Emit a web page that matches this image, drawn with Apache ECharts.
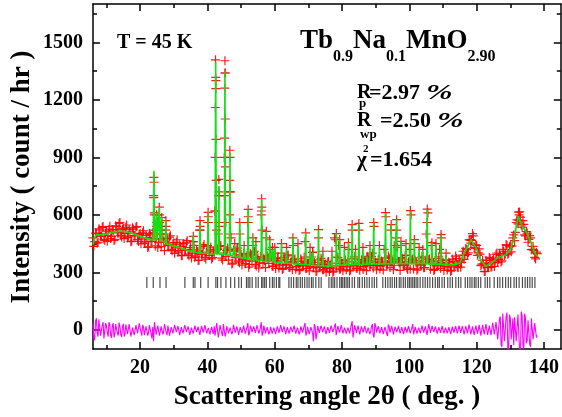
<!DOCTYPE html>
<html><head><meta charset="utf-8">
<script src="https://cdn.jsdelivr.net/npm/echarts@6/dist/echarts.min.js"></script>
<style>html,body{margin:0;padding:0;background:#fff}#c{width:562px;height:417px}</style>
</head><body><div id="c"></div>
<script>
// ---- data ----
const xTicks = [20, 40, 60, 80, 100, 120, 140];
const xMinor = [10, 30, 50, 70, 90, 110, 130];
const yTicks = [0, 300, 600, 900, 1200, 1500];
const yMinor = [150, 450, 750, 1050, 1350, 1650];

// observed intensity on the scan grid (6.0 .. 138.0, step 0.5)
const scanStart = 6.0, scanStep = 0.5;
const obsScan = [
 480,460,502,457,521,490,539,467,515,492,
 540,487,515,472,539,510,560,485,529,503,
 547,489,511,463,525,492,539,461,503,475,
 517,459,481,433,495,463,700,438,560,456,
 500,500,463,470,477,443,491,413,455,428,
 470,413,435,388,450,417,465,387,429,400,
 441,385,409,363,427,396,445,369,440,388,
 432,377,401,1300,421,700,440,364,900,383,
 427,420,480,348,411,379,427,350,393,366,
 399,360,560,341,392,440,410,333,376,350,
 600,347,362,480,374,420,383,332,400,343,
 375,337,400,320,365,341,391,325,355,440,
 369,331,346,314,359,337,460,320,349,331,
 380,325,340,307,480,330,363,313,342,324,
 357,320,337,306,470,380,440,317,348,331,
 365,328,420,312,520,336,370,321,520,333,
 366,330,346,380,361,339,400,540,353,336,
 369,332,349,420,590,341,375,520,355,337,
 480,430,350,440,370,340,390,315,420,600,
 370,450,350,317,363,341,375,325,500,610,
 369,440,348,315,360,338,420,480,351,332,
 365,327,342,310,357,336,372,325,360,352,
 410,388,419,402,468,466,490,425,440,402,
 395,343,344,305,349,331,372,330,368,359,
 401,368,389,360,410,396,440,400,440,437,
 495,508,574,572,588,536,550,490,505,472,
 480,420,414,370,398
];
// observed intensity on the interleaved grid (6.25 .. 137.75, step 0.5)
const scan2Start = 6.25;
const obsScan2 = [
 435,505,452,527,488,535,472,504,462,525,
 476,523,466,543,506,555,493,523,476,535,
 481,523,460,532,491,536,471,498,449,506,
 451,493,430,502,461,507,600,475,429,560,
 434,476,413,500,439,484,419,447,399,457,
 405,444,387,451,414,454,395,419,375,460,
 378,417,362,520,393,435,378,405,560,417,
 370,411,620,420,500,435,374,401,1340,414,
 364,720,343,416,376,422,358,386,338,396,
 345,386,327,397,358,404,342,369,322,382,
 520,373,325,386,347,394,331,360,320,372,
 322,363,315,377,338,386,325,353,314,366,
 316,357,309,371,333,380,320,347,308,360,
 404,352,303,365,326,373,313,340,301,354,
 305,348,301,480,328,377,318,347,308,362,
 313,355,307,371,333,381,321,349,311,364,
 315,357,309,373,335,383,323,352,313,366,
 317,359,312,375,337,385,325,353,314,367,
 520,358,310,377,335,387,323,355,316,365,
 318,360,311,376,338,384,324,354,560,366,
 316,358,310,372,333,381,321,349,310,362,
 312,353,306,369,333,385,328,360,327,390,
 368,425,393,470,452,502,430,443,389,422,
 335,363,304,362,325,378,326,362,331,394,
 351,397,354,420,388,445,395,433,407,480,
 465,560,553,615,547,570,495,513,457,492,
 418,435,378,405
];
// observed points on peak flanks [angle, count]
const obsPeaks = [
 [24.0,520],[24.05,690],[24.1,795],[24.15,770],[24.2,610],
 [24.85,540],[24.9,600],[24.95,560],
 [25.65,560],[25.7,640],[25.75,600],
 [26.35,520],[26.4,585],[26.45,540],
 [27.6,520],[27.65,570],[27.7,540],
 [35.8,488],[35.85,460],
 [37.75,520],[37.8,570],[37.85,540],
 [40.15,560],[40.2,613],[40.25,590],
 [42.25,620],[42.3,900],[42.35,1160],[42.4,1409],[42.45,1317],[42.5,1259],[42.55,994],[42.6,780],[42.7,520],
 [43.3,560],[43.35,700],[43.4,785],[43.45,720],[43.5,540],
 [45.05,700],[45.1,1000],[45.15,1261],[45.2,1404],[45.25,1340],[45.3,1100],[45.35,850],[45.45,560],
 [46.55,600],[46.6,780],[46.65,937],[46.7,900],[46.75,720],[46.85,500],
 [48.1,450],[49.6,560],[49.65,500],[50.9,440],
 [52.05,560],[52.1,628],[52.15,590],
 [53.5,480],[54.4,460],
 [56.05,620],[56.1,684],[56.15,640],
 [57.5,514],[58.5,470],[59.3,430],[60.0,430],[62.0,450],[63.5,430],
 [65.4,480],[66.9,450],[69.2,506],[70.5,430],[71.3,404],[73.0,523],[74.3,410],[77.0,410],[78.3,502],[79.3,471],[80.7,430],[81.9,455],
 [83.0,549],[84.0,420],[85.0,555],[86.2,430],[87.4,384],[88.3,440],[89.4,560],[91.1,440],[92.9,612],[94.6,549],[95.5,440],[96.2,575],
 [97.5,462],[99.0,450],[100.3,622],[101.5,471],[102.9,430],[104.0,420],[105.3,630],[106.7,455],[107.9,450],[109.4,497],[110.9,400],
 [118.3,471],[132.4,614],[132.6,600]
];
// calculated profile [angle, count]
const calcMain = [
 [6.0,445],[6.4,480],[7.0,497],[8.0,496],[9.0,494],[10,500],[12,510],[14,515],[16,512],[18,500],[20,488],[22,476],[23.9,468],
 [24.1,830],[24.3,468],[24.75,467],[24.9,610],[25.05,467],[25.55,466],[25.7,640],[25.85,465],[26.25,464],[26.4,590],[26.55,462],[27.5,456],[27.65,572],[27.8,448],
 [30,438],[32,428],[34,415],[35.65,408],[35.8,490],[35.95,406],[37.65,402],[37.8,560],[37.95,400],[40.05,398],[40.2,620],[40.35,397],
 [42.25,396],[42.45,1397],[42.65,396],[43.25,396],[43.4,750],[43.55,395],[45.05,393],[45.2,1352],[45.35,392],[46.55,390],[46.7,925],[46.85,389],
 [47.5,384],[49.45,378],[49.6,560],[49.75,377],[50,375],[51.95,370],[52.1,628],[52.25,369],[53.35,366],[53.5,480],[53.65,365],[55.95,360],[56.1,684],[56.25,359],[57.35,357],[57.5,514],[57.65,356],[58.35,355],[58.5,470],[58.65,354],[59.85,352],[60.0,430],[60.15,351],[61.85,349],[62.0,450],[62.15,348],
 [65.25,345],[65.4,480],[65.55,344],[69.05,341],[69.2,506],[69.35,340],[71.15,338],[71.3,404],[71.45,337],[72.85,335],[73.0,520],[73.15,334],[75.85,332],[76.0,357],[76.15,332],[78.15,334],[78.3,502],[78.45,335],[79.15,336],[79.3,471],[79.45,337],[81.75,340],[81.9,455],[82.05,340],[82.85,340],[83.0,549],[83.15,340],[84.85,341],[85.0,549],[85.15,341],[87.25,342],[87.4,384],[87.55,342],[89.25,343],[89.4,560],[89.55,343],[92.75,344],[92.9,610],[93.05,344],[94.45,345],[94.6,549],[94.75,345],[96.05,345],[96.2,575],[96.35,345],[97.35,345],[97.5,462],[97.65,345],[100.15,345],[100.3,620],[100.45,345],[101.35,345],[101.5,471],[101.65,345],[105.15,344],[105.3,628],[105.45,344],[106.55,343],[106.7,455],[106.85,343],[109.25,341],[109.4,497],[109.55,341],
 [112,338],[113.65,340],[113.8,357],[113.95,342],[115,350],[116.3,402],[117.5,440],[118.3,471],[119.0,450],[119.8,429],[121,370],[122.7,331],[124.5,350],[126.2,376],[127.5,385],[128.7,392],[130,420],[131,470],[132.4,593],[133.5,540],[134.6,514],[135.3,490],[136.1,455],[137.0,410],[137.6,392],[138.2,385]
];
// smaller calculated reflections [angle, count]
const calcMinor = [
 [47.95,381],[48.1,440],[48.25,381],[50.75,373],[50.9,430],[51.05,373],[54.25,364],[54.4,450],[54.55,364],
 [59.15,352],[59.3,420],[59.45,352],[63.35,347],[63.5,420],[63.65,347],[66.75,343],[66.9,440],[67.05,343],
 [70.35,339],[70.5,420],[70.65,339],[74.15,333],[74.3,400],[74.45,333],[76.85,333],[77.0,400],[77.15,333],
 [80.55,338],[80.7,420],[80.85,338],[83.85,340],[84.0,410],[84.15,340],[86.05,342],[86.2,420],[86.35,342],
 [88.15,342],[88.3,430],[88.45,342],[90.95,344],[91.1,430],[91.25,344],[95.35,345],[95.5,430],[95.65,345],
 [98.85,345],[99.0,440],[99.15,345],[102.75,345],[102.9,420],[103.05,345],[103.85,345],[104.0,410],[104.15,345],
 [107.75,342],[107.9,440],[108.05,342],[110.75,339],[110.9,390],[111.05,339]
];
// Bragg reflection positions (angle)
const braggLevel = 247;
const bragg = [
 22.0,23.9,25.9,27.7,33.3,35.8,36.3,38.0,40.2,42.5,43.0,44.0,45.5,46.9,48.1,49.3,50.1,51.6,52.1,52.6,53.3,54.4,55.1,56.1,56.5,57.0,57.5,58.5,59.3,59.8,60.5,61.2,
 61.5,64.2,64.9,65.6,66.4,66.9,67.6,68.2,68.9,69.6,70.2,70.9,71.4,72.2,73.1,73.8,76.1,76.8,77.3,77.8,78.5,79.3,79.8,80.2,80.7,81.2,81.7,82.2,83.0,83.7,84.7,85.2,86.0,86.7,87.4,88.1,88.9,89.6,90.3,
 92.1,92.9,93.6,94.3,94.9,95.6,96.2,97.0,97.5,98.2,98.8,99.5,100.0,100.5,101.0,101.5,102.0,102.5,103.2,104.0,104.7,105.4,106.1,106.9,107.7,108.4,108.9,109.7,110.4,111.4,112.1,112.8,113.8,114.6,115.3,
 116.6,117.3,118.0,118.6,119.3,119.8,120.5,121.2,122.5,123.2,123.9,125.2,126.2,126.9,127.7,128.6,129.4,130.1,131.1,131.8,132.6,133.6,134.4,135.1,135.8,136.5,137.3
];
// difference (obs - calc) on the scan grid
const diffScan = [
 30,-55,60,-35,45,-25,40,-50,20,-35,
 28,-42,35,-20,40,-30,18,-38,32,-22,
 36,-15,25,-40,18,-32,22,-10,28,-30,
 15,-35,22,-14,20,-45,-60,30,-18,12,
 -32,20,-10,26,-28,16,-22,12,-20,24,
 -16,10,-26,20,-14,26,-20,10,-16,22,
 -14,20,-22,10,-16,28,-10,16,-22,12,
 -20,10,18,-40,45,-30,20,-32,40,-16,
 14,-24,20,-10,26,-16,12,-20,22,-14,
 16,-26,35,-16,10,-20,22,-12,16,-22,
 40,-16,14,-26,20,-10,16,-22,12,-16,
 20,-14,22,-16,10,-20,16,-12,22,-20,
 14,-16,20,-10,16,-22,36,-14,16,-20,
 12,-60,16,-22,20,-14,16,-20,10,-16,
 22,-14,16,-20,34,-26,20,-12,16,-22,
 14,-16,22,-10,45,-30,20,-14,28,-20,
 16,-22,12,-16,20,-10,30,-40,20,-12,
 22,-16,14,-20,26,-32,16,-22,28,-14,
 16,-10,22,-16,14,-20,20,-12,16,-22,
 30,-20,14,-16,22,-10,16,-20,28,-36,
 20,-14,16,-22,14,-16,20,-10,22,-16,
 16,-20,14,-22,20,-16,14,-24,22,-16,
 20,-28,26,-16,30,-22,16,-30,26,-20,
 28,-34,22,-26,34,-28,20,-30,40,-22,
 45,-60,70,-90,80,-55,90,-110,60,-45,
 -80,55,-70,90,-130,75,-100,60,-55,45,
 -90,70,-45,40,-30
];
// difference on the interleaved grid
const diffScan2 = [
 -40,45,-20,55,-30,25,-45,35,-15,40,
 -30,22,-40,30,-18,38,-25,15,-35,28,
 -22,30,-35,12,-28,24,-18,34,-12,26,
 -28,18,-30,25,-20,15,40,-25,22,-30,
 18,-24,30,-14,22,-30,14,-18,26,-12,
 20,-28,14,-18,24,-12,18,-26,12,-20,
 22,-12,16,-26,20,-14,24,-18,10,-24,
 16,-22,-30,35,-40,25,-18,30,-35,20,
 -18,12,-22,26,-14,18,-26,14,-16,22,
 -20,14,-28,22,-12,18,-16,24,-20,12,
 -30,22,-18,14,-24,16,-20,12,-22,18,
 -16,24,-12,18,-22,14,-20,16,-12,22,
 -20,12,-24,18,-14,20,-30,16,-22,14,
 -18,30,-50,20,-16,22,-12,18,-22,14,
 -16,22,-12,18,-28,20,-14,24,-18,12,
 -20,12,-18,26,-40,24,-16,22,-24,18,
 -14,20,-18,12,-22,16,-26,35,-14,20,
 -18,14,-22,16,-20,28,-14,20,-24,16,
 -12,20,-18,14,-22,16,-14,20,-18,12,
 -24,16,-20,12,-18,22,-14,18,-26,30,
 -16,20,-12,18,-20,14,-16,20,-18,12,
 -18,14,-22,16,-14,20,-18,22,-16,20,
 -24,20,-18,28,-24,18,-26,22,-20,26,
 -30,26,-24,30,-26,22,-28,36,-24,40,
 -50,55,-75,85,-60,70,-95,80,-50,60,
 65,-60,80,-110,95,-80,85,-70,50,-75,
 60,-50,35,-40
];

const BLACK = '#000';
const FONT = '"Liberation Serif", "Times New Roman", serif';

const byAngle = (a, b) => a[0] - b[0];
const onGrid = (arr, start) => arr.map((v, i) => [start + i * scanStep, v]);
const obsData = onGrid(obsScan, scanStart).concat(onGrid(obsScan2, scan2Start), obsPeaks);
const diffData = onGrid(diffScan, scanStart).concat(onGrid(diffScan2, scan2Start)).sort(byAngle);
const calcData = calcMain.concat(calcMinor).sort(byAngle);
const braggData = bragg.map(a => [a, braggLevel]);

const chart = echarts.init(document.getElementById('c'), null, {renderer: 'canvas'});

function axCommon(ticks, len, labels, line, margin) {
  return {
    axisLine: {show: line, onZero: false, lineStyle: {color: BLACK, width: 1.5}},
    axisTick: {show: true, inside: true, length: len, customValues: ticks, lineStyle: {color: BLACK, width: 1.5}},
    axisLabel: {show: labels, customValues: ticks, margin: margin, color: BLACK, fontFamily: FONT, fontWeight: 'bold', fontSize: 20, formatter: v => String(v)},
    splitLine: {show: false}
  };
}
function xAx(pos, ticks, len, labels, line) {
  return Object.assign({type: 'value', position: pos, min: 6, max: 145, gridIndex: 0}, axCommon(ticks, len, labels, line, 9));
}
function yAx(pos, ticks, len, labels, line) {
  return Object.assign({type: 'value', position: pos, min: -100, max: 1700, gridIndex: 0}, axCommon(ticks, len, labels, line, 10));
}

const plusPath = 'path://M0,3.9h9v1.2h-9z M3.9,0h1.2v9h-1.2z';

// text pieces
const mctx = document.createElement('canvas').getContext('2d');
function tw(t, size) { mctx.font = 'bold ' + size + 'px ' + FONT; return mctx.measureText(t).width; }
function txt(x, y, t, size, extra, italic) {
  return Object.assign({type: 'text', x: x, y: y, z: 10, style: {text: t, fill: BLACK, font: (italic ? 'italic ' : '') + 'bold ' + size + 'px ' + FONT, verticalAlign: 'middle', align: 'left'}}, extra || {});
}
const g = [];
g.push(txt(117, 43, 'T = 45 K', 20));
// formula
(function () {
  let x = 300; const big = 27, sm = 16, yb = 41, ys = 57;
  [['Tb', big, yb], ['0.9', sm, ys], ['Na', big, yb], ['0.1', sm, ys], ['MnO', big, yb], ['2.90', sm, ys]].forEach(p => {
    g.push(txt(x, p[2], p[0], p[1])); x += tw(p[0], p[1]);
  });
})();
g.push(txt(357, 93, 'R', 20));
g.push(txt(359, 104, 'p', 13));
g.push(txt(369, 93, '=2.97', 22));
g.push(txt(426, 93, '%', 22, {scaleX: 1.45}, true));
g.push(txt(357, 121, 'R', 20));
g.push(txt(360, 135, 'wp', 13));
g.push(txt(380, 121, '=2.50', 22));
g.push(txt(437, 121, '%', 22, {scaleX: 1.45}, true));
g.push(txt(357, 161, 'χ', 21));
g.push(txt(363, 149, '2', 11));
g.push(txt(370, 160, '=1.654', 22));
// axis titles
g.push({type: 'text', x: 327, y: 397, z: 10, style: {text: 'Scattering angle 2θ ( deg. )', fill: BLACK, font: 'bold 27px ' + FONT, align: 'center', verticalAlign: 'middle'}});
g.push({type: 'text', x: 22, y: 177, rotation: Math.PI / 2, z: 10, style: {text: 'Intensity ( count / hr )', fill: BLACK, font: 'bold 27px ' + FONT, align: 'center', verticalAlign: 'middle'}});

chart.setOption({
  animation: false,
  backgroundColor: '#fff',
  grid: {left: 93, right: 1, top: 4, bottom: 68, containLabel: false},
  xAxis: [xAx('bottom', xTicks, 7, true, true), xAx('bottom', xMinor, 4, false, false), xAx('top', xTicks, 7, false, true), xAx('top', xMinor, 4, false, false)],
  yAxis: [yAx('left', yTicks, 7, true, true), yAx('left', yMinor, 4, false, false), yAx('right', yTicks, 7, false, true), yAx('right', yMinor, 4, false, false)],
  series: [
    {type: 'scatter', name: 'bragg', data: braggData, symbol: 'rect', symbolSize: [1.2, 11], itemStyle: {color: '#222'}, z: 1, silent: true},
    {type: 'scatter', name: 'obs', data: obsData, symbol: plusPath, symbolSize: [9, 9], itemStyle: {color: '#ff0000', opacity: 0.9}, z: 2, silent: true},
    {type: 'line', name: 'calc', data: calcData, showSymbol: false, symbol: 'none', lineStyle: {color: '#12e012', width: 1.6}, z: 3, silent: true},
    {type: 'line', name: 'diff', data: diffData, showSymbol: false, symbol: 'none', lineStyle: {color: '#ff00ff', width: 1.1}, z: 3, silent: true}
  ],
  graphic: g
});
</script></body></html>
